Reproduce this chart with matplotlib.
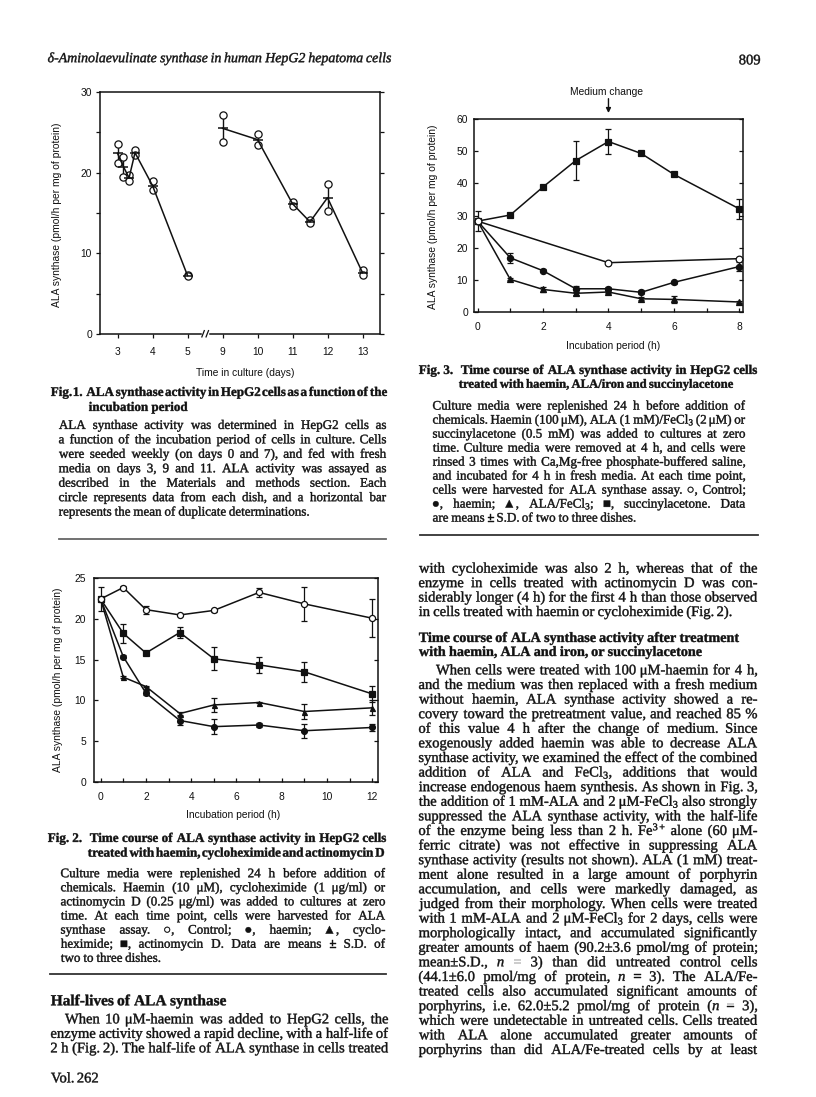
import numpy as np
import matplotlib
matplotlib.use("Agg")
import matplotlib.pyplot as plt
from matplotlib.lines import Line2D
from matplotlib.transforms import blended_transform_factory, Affine2D
from matplotlib.textpath import TextPath
from matplotlib.patches import PathPatch
from matplotlib.font_manager import FontProperties

# ------------------------------------------------------------------ data
# Fig. 1 : duplicate dishes (upper / lower circle) per day
fig1_days_a = [3.0, 3.17, 3.33, 3.5, 4.0, 5.0]
fig1_hi_a = [23.6, 22.0, 19.7, 22.75, 19.0, 7.3]
fig1_lo_a = [21.2, 19.5, 19.0, 22.2, 17.8, 7.2]
fig1_days_b = [9.0, 10.0, 11.0, 11.5, 12.0, 13.0]
fig1_hi_b = [27.2, 24.8, 16.4, 14.1, 18.6, 7.9]
fig1_lo_b = [23.8, 23.4, 15.9, 13.7, 15.2, 7.3]
fig1_tick_days = [3, 4, 5, 9, 10, 11, 12, 13]

# Fig. 2 : time course (h)
fig2_t = [0, 1, 2, 3.5, 5, 7, 9, 12]
fig2_control = [22.4, 23.8, 21.1, 20.45, 21.0, 23.2, 21.8, 20.05]
fig2_control_sd = [1.5, 0.15, 0.5, 0.15, 0.2, 0.5, 2.1, 2.35]
fig2_actd = [22.4, 18.2, 15.8, 18.3, 15.1, 14.35, 13.5, 10.8]
fig2_actd_sd = [0.0, 1.15, 0.2, 0.7, 1.4, 1.0, 1.2, 1.0]
fig2_chx = [22.4, 12.85, 11.7, 8.4, 9.45, 9.75, 8.65, 9.1]
fig2_chx_sd = [0.0, 0.1, 0.1, 0.15, 0.8, 0.1, 0.9, 0.9]
fig2_haemin = [22.4, 15.35, 10.9, 7.55, 6.8, 7.0, 6.3, 6.7]
fig2_haemin_sd = [0.0, 0.2, 0.2, 0.55, 0.9, 0.3, 0.85, 0.4]

# Fig. 3 : time course (h)
fig3_t = [0, 1, 2, 3, 4, 5, 6, 8]
fig3_succ = [28.3, 30.2, 38.9, 47.1, 53.0, 49.3, 42.8, 32.1]
fig3_succ_sd = [0.0, 0.3, 0.5, 6.1, 4.0, 0.4, 0.6, 3.0]
fig3_haemin = [28.3, 16.9, 12.9, 7.3, 7.3, 6.2, 9.3, 14.2]
fig3_haemin_sd = [0.0, 1.5, 0.4, 1.0, 0.5, 0.6, 0.5, 1.5]
fig3_alafe = [28.3, 10.2, 7.1, 5.9, 6.3, 4.2, 4.0, 3.2]
fig3_alafe_sd = [0.0, 0.3, 0.8, 0.4, 0.4, 0.5, 1.2, 0.4]
fig3_control_t = [0, 4, 8]
fig3_control = [28.3, 15.4, 16.65]
fig3_control_sd = [3.0, 0.2, 0.3]

# ------------------------------------------------------------------ setup
W, H = 816, 1097
plt.rcParams["mathtext.fontset"] = "custom"
plt.rcParams["mathtext.rm"] = "Liberation Serif"
plt.rcParams["mathtext.it"] = "Liberation Serif:italic"
plt.rcParams["mathtext.bf"] = "Liberation Serif:bold"
plt.rcParams["font.family"] = ["Liberation Sans", "DejaVu Sans"]

INK = "#111111"
SERIF = ["Liberation Serif", "DejaVu Sans"]
SANS = ["Liberation Sans", "DejaVu Sans"]
AX_FS = 7.4
PX = 100 / 72.0

fig = plt.figure(figsize=(W / 100, H / 100), dpi=100)
fig.patch.set_facecolor("white")


def fx(x):
    return x / W


def fy(y):
    return 1 - y / H


_cache = {}


def wpath(s, size, weight, style):
    if s == "":
        return (None, 0.0, 0.0)
    key = (s, round(size, 4), weight, style)
    if key not in _cache:
        fp = FontProperties(family=SERIF, weight=weight, style=style)
        p = TextPath((0, 0), s, size=size * PX, prop=fp)
        e = p.get_extents()
        _cache[key] = (p, e.x1 - e.x0, e.x0)
    return _cache[key]


def draw_word(p, x, base):
    tr = Affine2D().translate(x, H - base).scale(1.0 / W, 1.0 / H) + fig.transFigure
    fig.add_artist(PathPatch(p, transform=tr, facecolor=INK, edgecolor=INK, lw=0.3))


def tline(x0, x1, y, s, size, weight="normal", style="normal", justify=True, ha="left"):
    """One line of serif text (y = visual centre), justified to [x0, x1]."""
    words = s.split(" ")
    while True:
        info = [wpath(w, size, weight, style) for w in words]
        ws = [i[1] for i in info]
        space = 0.27 * size * PX
        if justify and len(words) > 1:
            gap = (x1 - x0 - sum(ws)) / (len(words) - 1)
            if gap < 0.6 * space:
                size *= 0.985
                continue
        else:
            gap = space
        break
    total = sum(ws) + gap * (len(words) - 1)
    x = x0 if ha == "left" else x1 - total
    base = y + size * PX * 0.3
    for (p, wd, off) in info:
        if p is not None:
            draw_word(p, x - off, base)
        x += wd + gap


def fit_size(x0, x1, s, size, weight="normal", style="normal"):
    words = s.split(" ")
    w = sum(wpath(t, size, weight, style)[1] for t in words) + 0.27 * size * PX * (len(words) - 1)
    return size * (x1 - x0) / w


def para(x0, x1, y0, dy, lines, size, indent=0.0, last_just=False, weight="normal"):
    for i, s in enumerate(lines):
        last = (i == len(lines) - 1) and not last_just
        tline(x0 + (indent if i == 0 else 0), x1, y0 + i * dy, s, size,
              weight=weight, justify=not last)


def hrule(x0, x1, y, lw=1.2, color="#333333"):
    fig.add_artist(Line2D([fx(x0), fx(x1)], [fy(y), fy(y)], transform=fig.transFigure,
                          color=color, lw=lw))


def axes_px(left, right, top, bottom):
    return fig.add_axes([fx(left), fy(bottom), (right - left) / W, (bottom - top) / H])


def style_axes(ax, direction):
    for sp in ax.spines.values():
        sp.set_linewidth(1.1)
        sp.set_color(INK)
    ax.tick_params(which="both", direction=direction, right=True, top=False,
                   width=0.9, colors=INK, labelsize=AX_FS, labelcolor=INK)
    ax.tick_params(which="major", length=3.2)
    ax.tick_params(which="minor", length=3.2)
    for lab in ax.get_xticklabels() + ax.get_yticklabels():
        lab.set_family(SANS)


CAP_FS = 9.4
BODY_FS = 10.5

# ------------------------------------------------------------------ header
hdr = "δ-Aminolaevulinate synthase in human HepG2 hepatoma cells"
hs = fit_size(48, 391, hdr, 9.5, style="italic")
tline(48, 391, 58, hdr, hs, style="italic", justify=False)
tline(700, 760, 60, "809", BODY_FS, justify=False, ha="right")

# ------------------------------------------------------------------ Fig. 1
ax1 = axes_px(100, 380, 92, 334)


def day_pos(d):
    return d - 3 if d < 7 else d - 6


for days, hi, lo in [(fig1_days_a, fig1_hi_a, fig1_lo_a), (fig1_days_b, fig1_hi_b, fig1_lo_b)]:
    pos = np.array([day_pos(d) for d in days])
    hi = np.array(hi)
    lo = np.array(lo)
    mean = (hi + lo) / 2
    ax1.vlines(pos, lo, hi, color=INK, lw=1.0, zorder=2)
    ax1.plot(np.r_[pos, pos], np.r_[hi, lo], "o", ms=5.2, mfc="white", mec=INK, mew=0.9, zorder=3)
    ax1.plot(pos, mean, "-", color=INK, lw=1.1, zorder=4)
    ax1.plot(pos, mean, "_", color=INK, ms=7, mew=1.1, zorder=5)

ax1.set_xlim(-0.5, 7.5)
ax1.set_ylim(0, 30)
ax1.set_xticks([day_pos(d) for d in fig1_tick_days])
ax1.set_xticklabels([str(d) for d in fig1_tick_days])
ax1.set_yticks([0, 10, 20, 30])
ax1.set_yticks([5, 15, 25], minor=True)
style_axes(ax1, "out")
ax1.tick_params(axis="x", pad=6.5)
ax1.tick_params(axis="y", pad=2.5)
# axis-break mark
bt = blended_transform_factory(ax1.transData, ax1.transAxes)
gap_x = (day_pos(5) + day_pos(9)) / 2
ax1.plot([gap_x - 0.06, gap_x + 0.06], [0, 0], color="white", lw=2.5, transform=bt,
         clip_on=False, zorder=10)
for off in (-0.09, 0.03):
    ax1.plot([gap_x + off, gap_x + off + 0.07], [-0.012, 0.014], color=INK, lw=0.9,
             transform=bt, clip_on=False, zorder=11)
fig.text(fx(57), fy(215), "ALA synthase (pmol/h per mg of protein)", rotation=90,
         ha="center", va="center", fontsize=AX_FS, family=SANS, color=INK)
fig.text(fx(245), fy(373), "Time in culture (days)", ha="center", va="center",
         fontsize=AX_FS, family=SANS, color=INK)

# Fig. 1 caption
tline(51, 387, 392, "Fig. 1.  ALA synthase activity in HepG2 cells as a function of the",
      CAP_FS, weight="bold")
tline(89, 387, 407, "incubation period", CAP_FS, weight="bold", justify=False)
para(59, 386, 425, 14.45, [
    "ALA synthase activity was determined in HepG2 cells as",
    "a function of the incubation period of cells in culture. Cells",
    "were seeded weekly (on days 0 and 7), and fed with fresh",
    "media on days 3, 9 and 11. ALA activity was assayed as",
    "described in the Materials and methods section. Each",
    "circle represents data from each dish, and a horizontal bar",
    "represents the mean of duplicate determinations.",
], CAP_FS)
hrule(59, 386, 539, lw=1.3, color="#666666")

# ------------------------------------------------------------------ Fig. 2
ax2 = axes_px(94.3, 377.7, 577.7, 782.3)


def series(ax, t, v, sd, marker, ms, filled=True, z=3):
    t = np.array(t, float)
    v = np.array(v, float)
    sd = np.array(sd, float)
    ax.plot(t, v, "-", color=INK, lw=1.1, zorder=z)
    m = sd > 0
    ax.errorbar(t[m], v[m], yerr=sd[m], fmt="none", ecolor=INK, elinewidth=0.9,
                capsize=2.2, capthick=0.9, zorder=z)
    ax.plot(t, v, marker, ms=ms, mfc=INK if filled else "white", mec=INK, mew=0.9,
            zorder=z + 0.5, linestyle="none")


series(ax2, fig2_t, fig2_haemin, fig2_haemin_sd, "o", 4.2, z=3)
series(ax2, fig2_t, fig2_chx, fig2_chx_sd, "^", 3.6, z=3.2)
series(ax2, fig2_t, fig2_actd, fig2_actd_sd, "s", 3.8, z=3.4)
series(ax2, fig2_t, fig2_control, fig2_control_sd, "o", 4.4, filled=False, z=3.6)
ax2.set_xlim(-0.28, 12.24)
ax2.set_ylim(0, 25)
ax2.set_xticks(np.arange(0, 13, 2))
ax2.set_xticks(np.arange(1, 13, 2), minor=True)
ax2.set_yticks(np.arange(0, 26, 5))
style_axes(ax2, "in")
ax2.tick_params(axis="x", pad=7)
ax2.tick_params(axis="y", pad=6)
fig.text(fx(58), fy(680), "ALA synthase (pmol/h per mg of protein)", rotation=90,
         ha="center", va="center", fontsize=AX_FS, family=SANS, color=INK)
fig.text(fx(233), fy(815), "Incubation period (h)", ha="center", va="center",
         fontsize=AX_FS, family=SANS, color=INK)

tline(48, 386, 838, "Fig. 2.  Time course of ALA synthase activity in HepG2 cells",
      CAP_FS, weight="bold")
tline(88, 384, 852.7, "treated with haemin, cycloheximide and actinomycin D",
      CAP_FS, weight="bold")
para(61, 385, 873.3, 14.1, [
    "Culture media were replenished 24 h before addition of",
    "chemicals. Haemin (10 μM), cycloheximide (1 μg/ml) or",
    "actinomycin D (0.25 μg/ml) was added to cultures at zero",
    "time. At each time point, cells were harvested for ALA",
    "synthase assay. ○, Control; ●, haemin; ▲, cyclo-",
    "heximide; ■, actinomycin D. Data are means ± S.D. of",
    "two to three dishes.",
], CAP_FS)
hrule(50, 386, 974, lw=1.3, color="#333333")

hb = fit_size(51, 226, "Half-lives of ALA synthase", BODY_FS, weight="bold")
tline(51, 226, 1000.7, "Half-lives of ALA synthase", hb, weight="bold", justify=False)
para(51, 388, 1019, 14.5, [
    "When 10 μM-haemin was added to HepG2 cells, the",
    "enzyme activity showed a rapid decline, with a half-life of",
    "2 h (Fig. 2). The half-life of ALA synthase in cells treated",
], BODY_FS, indent=14, last_just=True)
tline(51, 200, 1078, "Vol. 262", BODY_FS, justify=False)

# ------------------------------------------------------------------ Fig. 3
ax3 = axes_px(474.3, 743.3, 119, 312.3)
series(ax3, fig3_t, fig3_alafe, fig3_alafe_sd, "^", 4.0, z=3)
series(ax3, fig3_t, fig3_haemin, fig3_haemin_sd, "o", 4.4, z=3.2)
series(ax3, fig3_t, fig3_succ, fig3_succ_sd, "s", 4.2, z=3.4)
series(ax3, fig3_control_t, fig3_control, fig3_control_sd, "o", 4.8, filled=False, z=3.6)
ax3.set_xlim(-0.1, 8.12)
ax3.set_ylim(0, 60)
ax3.set_xticks(np.arange(0, 9, 2))
ax3.set_xticks(np.arange(1, 9, 2), minor=True)
ax3.set_yticks(np.arange(0, 61, 10))
style_axes(ax3, "in")
ax3.tick_params(axis="x", pad=7)
ax3.tick_params(axis="y", pad=4.5)
ax3.annotate("", xy=(4, 1.031), xytext=(4, 1.105), xycoords=("data", "axes fraction"),
             textcoords=("data", "axes fraction"),
             arrowprops=dict(arrowstyle="-|>", color=INK, lw=1.0, mutation_scale=7,
                             shrinkA=0, shrinkB=0), annotation_clip=False)
ax3.text(3.93, 1.14, "Medium change",
         transform=blended_transform_factory(ax3.transData, ax3.transAxes),
         ha="center", va="center", fontsize=AX_FS, family=SANS, color=INK)
fig.text(fx(433.3), fy(216.7), "ALA synthase (pmol/h per mg of protein)", rotation=90,
         ha="center", va="center", fontsize=AX_FS, family=SANS, color=INK)
fig.text(fx(613.3), fy(346), "Incubation period (h)", ha="center", va="center",
         fontsize=AX_FS, family=SANS, color=INK)

tline(419, 757, 370, "Fig. 3.  Time course of ALA synthase activity in HepG2 cells",
      CAP_FS, weight="bold")
tline(459, 733, 384, "treated with haemin, ALA/iron and succinylacetone", CAP_FS, weight="bold")
para(433, 745, 405.7, 14.0, [
    "Culture media were replenished 24 h before addition of",
    "chemicals. Haemin (100 μM), ALA (1 mM)/FeCl$_3$ (2 μM) or",
    "succinylacetone (0.5 mM) was added to cultures at zero",
    "time. Culture media were removed at 4 h, and cells were",
    "rinsed 3 times with Ca,Mg-free phosphate-buffered saline,",
    "and incubated for 4 h in fresh media. At each time point,",
    "cells were harvested for ALA synthase assay. ○, Control;",
    "●, haemin; ▲, ALA/FeCl$_3$; ■, succinylacetone. Data",
    "are means ± S.D. of two to three dishes.",
], CAP_FS)
hrule(420, 758, 535, lw=1.3, color="#333333")

para(419, 757, 568.3, 14.45, [
    "with cycloheximide was also 2 h, whereas that of the",
    "enzyme in cells treated with actinomycin D was con-",
    "siderably longer (4 h) for the first 4 h than those observed",
    "in cells treated with haemin or cycloheximide (Fig. 2).",
], BODY_FS)

h1 = "Time course of ALA synthase activity after treatment"
hh = fit_size(419, 739, h1, BODY_FS, weight="bold")
tline(419, 739, 637.7, h1, hh, weight="bold", justify=False)
tline(419, 739, 651.7, "with haemin, ALA and iron, or succinylacetone", hh, weight="bold",
      justify=False)

para(419, 757, 670, 14.6, [
    "When cells were treated with 100 μM-haemin for 4 h,",
    "and the medium was then replaced with a fresh medium",
    "without haemin, ALA synthase activity showed a re-",
    "covery toward the pretreatment value, and reached 85 %",
    "of this value 4 h after the change of medium. Since",
    "exogenously added haemin was able to decrease ALA",
    "synthase activity, we examined the effect of the combined",
    "addition of ALA and FeCl$_3$, additions that would",
    "increase endogenous haem synthesis. As shown in Fig. 3,",
    "the addition of 1 mM-ALA and 2 μM-FeCl$_3$ also strongly",
    "suppressed the ALA synthase activity, with the half-life",
    "of the enzyme being less than 2 h. Fe$^{3+}$ alone (60 μM-",
    "ferric citrate) was not effective in suppressing ALA",
    "synthase activity (results not shown). ALA (1 mM) treat-",
    "ment alone resulted in a large amount of porphyrin",
    "accumulation, and cells were markedly damaged, as",
    "judged from their morphology. When cells were treated",
    "with 1 mM-ALA and 2 μM-FeCl$_3$ for 2 days, cells were",
    "morphologically intact, and accumulated significantly",
    "greater amounts of haem (90.2±3.6 pmol/mg of protein;",
    "mean±S.D., $n$ = 3) than did untreated control cells",
    "(44.1±6.0 pmol/mg of protein, $n$ = 3). The ALA/Fe-",
    "treated cells also accumulated significant amounts of",
    "porphyrins, i.e. 62.0±5.2 pmol/mg of protein ($n$ = 3),",
    "which were undetectable in untreated cells. Cells treated",
    "with ALA alone accumulated greater amounts of",
    "porphyrins than did ALA/Fe-treated cells by at least",
], BODY_FS, indent=17, last_just=True)

fig.savefig("out.png", dpi=100, facecolor="white")
